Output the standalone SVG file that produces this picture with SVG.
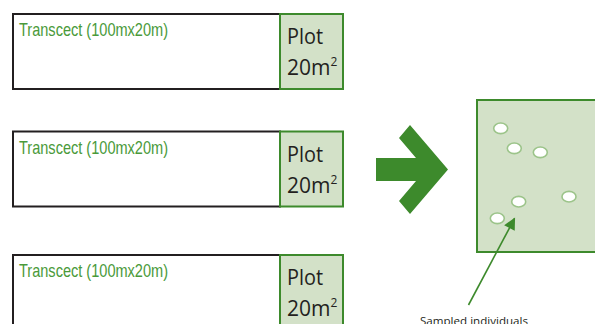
<svg xmlns="http://www.w3.org/2000/svg" width="595" height="324" viewBox="0 0 595 324">
<style>
.tr{fill:#ffffff;stroke:#231f20;stroke-width:2}
.pl{fill:#d3e1c8;stroke:#3d8a2c;stroke-width:2}
.tt{font-family:"Liberation Sans",Arial,sans-serif;font-size:19px;fill:#4a9a3a}
.pt{font-family:"Open Sans","Noto Sans",sans-serif;font-size:21px;fill:#231f20}
.sup{font-size:12px}
.ind{fill:#ffffff;stroke:#9cc48a;stroke-width:1.6}
.lbl{font-family:"Open Sans","Noto Sans",sans-serif;font-size:11.5px;fill:#231f20}
</style>
<defs>
<marker id="ah" viewBox="0 0 10 10" refX="9" refY="5" markerWidth="12" markerHeight="7.5" markerUnits="strokeWidth" orient="auto">
<path d="M0,0 L10,5 L0,10 z" fill="#3d8a2c"/>
</marker>
</defs>
<g id="transect1">
<rect class="tr" x="13" y="14" width="267" height="75"/>
<text class="tt" x="19" y="36" textLength="149" lengthAdjust="spacingAndGlyphs">Transcect (100mx20m)</text>
</g>
<g id="plot1">
<rect class="pl" x="280" y="14" width="63" height="75"/>
<text class="pt" x="287" y="44" textLength="36" lengthAdjust="spacingAndGlyphs">Plot</text>
<text class="pt" x="287" y="75">20m<tspan class="sup" dy="-9">2</tspan></text>
</g>
<g id="transect2">
<rect class="tr" x="13" y="131.5" width="267" height="75"/>
<text class="tt" x="19" y="153.5" textLength="149" lengthAdjust="spacingAndGlyphs">Transcect (100mx20m)</text>
</g>
<g id="plot2">
<rect class="pl" x="280" y="131.5" width="63" height="75"/>
<text class="pt" x="287" y="161.5" textLength="36" lengthAdjust="spacingAndGlyphs">Plot</text>
<text class="pt" x="287" y="192.5">20m<tspan class="sup" dy="-9">2</tspan></text>
</g>
<g id="transect3">
<rect class="tr" x="13" y="255" width="267" height="80"/>
<text class="tt" x="19" y="277" textLength="149" lengthAdjust="spacingAndGlyphs">Transcect (100mx20m)</text>
</g>
<g id="plot3">
<rect class="pl" x="280" y="255" width="63" height="80"/>
<text class="pt" x="287" y="285" textLength="36" lengthAdjust="spacingAndGlyphs">Plot</text>
<text class="pt" x="287" y="316">20m<tspan class="sup" dy="-9">2</tspan></text>
</g>
<g id="bigarrow">
<polygon points="376,158 416,158 399,138 410,125 448,169.5 410,214 399,201 416,181 376,181" fill="#3d8a2c"/>
</g>
<g id="sampleplot">
<rect x="477" y="100" width="125" height="152" fill="#d3e1c8" stroke="#3d8a2c" stroke-width="2"/>
<ellipse class="ind" cx="500.7" cy="128.3" rx="7" ry="5.3"/>
<ellipse class="ind" cx="514.3" cy="148.3" rx="7" ry="5.3"/>
<ellipse class="ind" cx="540.3" cy="152.3" rx="7" ry="5.3"/>
<ellipse class="ind" cx="569" cy="196.7" rx="7" ry="5.3"/>
<ellipse class="ind" cx="518.7" cy="201.7" rx="7" ry="5.3"/>
<ellipse class="ind" cx="497.3" cy="218.3" rx="7" ry="5.3"/>
</g>
<g id="connectors">
<line x1="468.5" y1="305" x2="514.5" y2="218.5" stroke="#3d8a2c" stroke-width="1.6" marker-end="url(#ah)"/>
</g>
<g id="label">
<text class="lbl" x="420" y="324.5" textLength="108" lengthAdjust="spacingAndGlyphs">Sampled individuals</text>
</g>
</svg>
